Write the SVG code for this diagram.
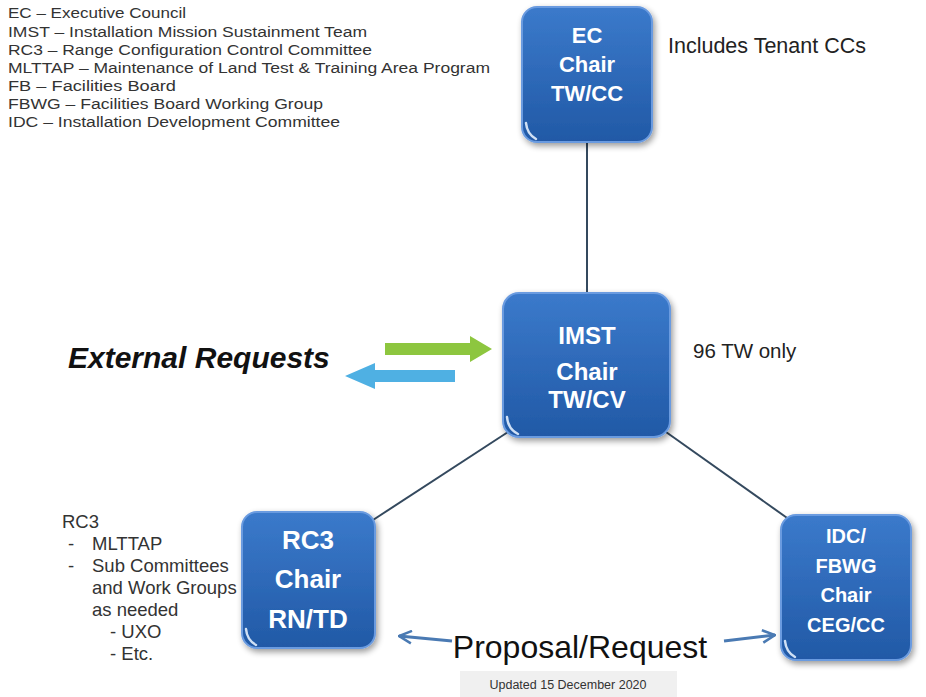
<svg xmlns="http://www.w3.org/2000/svg" width="926" height="697" viewBox="0 0 926 697">
<defs>
<linearGradient id="boxg" x1="0" y1="0" x2="0" y2="1">
<stop offset="0" stop-color="#3b7acb"/>
<stop offset="1" stop-color="#2159a6"/>
</linearGradient>
<filter id="sh" x="-20%" y="-20%" width="140%" height="140%">
<feGaussianBlur in="SourceAlpha" stdDeviation="3"/>
<feOffset dx="2" dy="3" result="b"/>
<feComponentTransfer><feFuncA type="linear" slope="0.4"/></feComponentTransfer>
<feMerge><feMergeNode/><feMergeNode in="SourceGraphic"/></feMerge>
</filter>
<marker id="oa" viewBox="0 0 12 12" refX="11" refY="6" markerWidth="5" markerHeight="5" orient="auto-start-reverse" markerUnits="strokeWidth">
<path d="M1,1 L11,6 L1,11" fill="none" stroke="#4a7ab3" stroke-width="2"/>
</marker>
</defs>
<style>
.box{fill:url(#boxg);stroke:#6a9be0;stroke-width:2;filter:url(#sh)}
.bt{font-family:"Liberation Sans",Arial,sans-serif;font-weight:bold;fill:#ffffff;text-anchor:middle}
.leg{font-family:"Liberation Sans",Arial,sans-serif;font-size:15.5px;fill:#333333}
.side{font-family:"Liberation Sans",Arial,sans-serif;font-size:18.5px;fill:#333333}
.note{font-family:"Liberation Sans",Arial,sans-serif;fill:#222222}
.conn{stroke:#34495e;stroke-width:2;fill:none}
.pa{stroke:#4a7ab3;stroke-width:3;fill:none}
.hl{fill:none;stroke:#cfe0f5;stroke-width:2.5;stroke-linecap:round}
</style>
<rect width="926" height="697" fill="#ffffff"/>

<g id="legend" class="leg" xml:space="preserve">
<text x="8" y="18" textLength="178" lengthAdjust="spacingAndGlyphs">EC – Executive Council</text>
<text x="8" y="37" textLength="359" lengthAdjust="spacingAndGlyphs">IMST  –  Installation Mission Sustainment Team</text>
<text x="8" y="55" textLength="364" lengthAdjust="spacingAndGlyphs">RC3  –  Range Configuration  Control Committee</text>
<text x="8" y="73" textLength="482" lengthAdjust="spacingAndGlyphs">MLTTAP  –  Maintenance of Land Test &amp; Training Area Program</text>
<text x="8" y="91" textLength="168" lengthAdjust="spacingAndGlyphs">FB  –  Facilities Board</text>
<text x="8" y="109" textLength="315" lengthAdjust="spacingAndGlyphs">FBWG  –  Facilities Board Working Group</text>
<text x="8" y="127" textLength="332" lengthAdjust="spacingAndGlyphs">IDC  –  Installation Development  Committee</text>
</g>

<g id="connectors">
<line class="conn" x1="587" y1="142" x2="587" y2="293"/>
<line class="conn" x1="508" y1="432" x2="373" y2="520"/>
<line class="conn" x1="666" y1="432" x2="790" y2="520"/>
<line class="pa" x1="452" y1="641" x2="399" y2="636" marker-end="url(#oa)"/>
<line class="pa" x1="724" y1="641" x2="775" y2="635" marker-end="url(#oa)"/>
<polygon fill="#8dc63f" points="385,343 470,343 470,336 492,349 470,362 470,355 385,355"/>
<polygon fill="#4fb0e3" points="455,370 375,370 375,363 345,376 375,389 375,382 455,382"/>
</g>

<g id="ec">
<rect class="box" x="522" y="7" width="130" height="135" rx="15"/>
<path class="hl" d="M526,123 Q527,134 536,139"/>
<text class="bt" font-size="22" x="587" y="43">EC</text>
<text class="bt" font-size="22" x="587" y="72">Chair</text>
<text class="bt" font-size="22" x="587" y="101">TW/CC</text>
</g>

<g id="imst">
<rect class="box" x="503" y="293" width="167" height="144" rx="16"/>
<path class="hl" d="M507,417 Q508,429 518,434"/>
<text class="bt" font-size="24" x="587" y="344">IMST</text>
<text class="bt" font-size="24" x="587" y="380">Chair</text>
<text class="bt" font-size="24" x="587" y="408">TW/CV</text>
</g>

<g id="rc3">
<rect class="box" x="242" y="512" width="133" height="136" rx="15"/>
<path class="hl" d="M246,629 Q247,640 256,645"/>
<text class="bt" font-size="26" x="308" y="549">RC3</text>
<text class="bt" font-size="26" x="308" y="588">Chair</text>
<text class="bt" font-size="26" x="308" y="628">RN/TD</text>
</g>

<g id="idc">
<rect class="box" x="781" y="515" width="130" height="145" rx="15"/>
<path class="hl" d="M785,641 Q786,652 795,657"/>
<text class="bt" font-size="20" x="846" y="543">IDC/</text>
<text class="bt" font-size="20" x="846" y="573">FBWG</text>
<text class="bt" font-size="20" x="846" y="602">Chair</text>
<text class="bt" font-size="20" x="846" y="632">CEG/CC</text>
</g>

<g id="notes">
<text class="note" font-size="21.5" x="668" y="53">Includes Tenant CCs</text>
<text class="note" font-size="20.5" x="693" y="358">96 TW only</text>
<text x="68" y="368" font-family="'Liberation Sans',Arial,sans-serif" font-size="30" font-weight="bold" font-style="italic" fill="#111111">External Requests</text>
<g class="side">
<text x="62" y="528">RC3</text>
<text x="68" y="550">-</text><text x="92" y="550">MLTTAP</text>
<text x="68" y="572">-</text><text x="92" y="572">Sub Committees</text>
<text x="92" y="594">and Work Groups</text>
<text x="92" y="616">as needed</text>
<text x="110" y="638">- UXO</text>
<text x="110" y="660">- Etc.</text>
</g>
<text x="580" y="658" text-anchor="middle" font-family="'Liberation Sans',Arial,sans-serif" font-size="32" fill="#111111">Proposal/Request</text>
<rect x="460" y="671" width="217" height="26" fill="#f0f0f0"/>
<text x="568" y="689" text-anchor="middle" font-family="'Liberation Sans',Arial,sans-serif" font-size="12.5" fill="#333333">Updated 15 December 2020</text>
</g>
</svg>
